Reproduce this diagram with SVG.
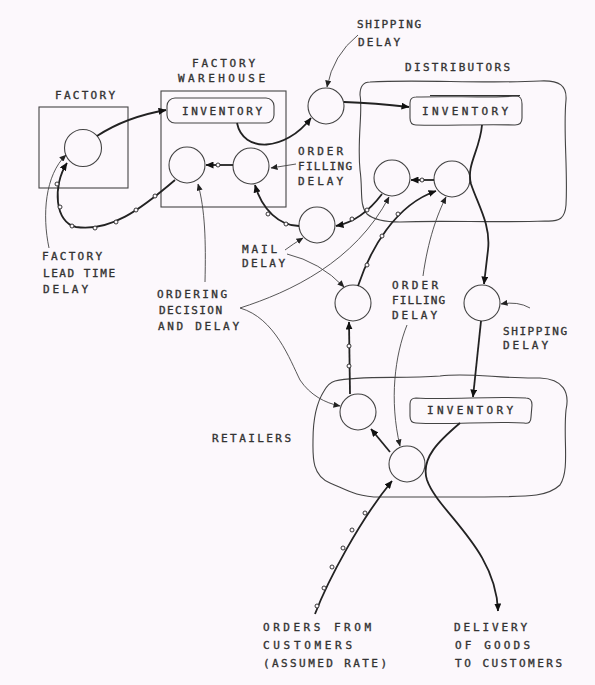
<svg xmlns="http://www.w3.org/2000/svg" width="595" height="685" viewBox="0 0 595 685">
<defs>
<style>
.bg{fill:#fcf8fc}
.t{font-family:"DejaVu Sans Mono","Liberation Mono",monospace;font-size:11px;fill:#333;stroke:#333;stroke-width:0.35}
.c{fill:none;stroke:#444;stroke-width:1.1}
.box{fill:none;stroke:#444;stroke-width:1.1}
.flow{fill:none;stroke:#222;stroke-width:1.8}
.info{fill:none;stroke:#444;stroke-width:0.9}
.dot{fill:#fcf8fc;stroke:#222;stroke-width:0.9}
</style>
<marker id="ah" viewBox="0 0 8 7" refX="7.5" refY="3.5" markerWidth="8" markerHeight="7" markerUnits="userSpaceOnUse" orient="auto"><path d="M0,0 L8,3.5 L0,7 z" fill="#111"/></marker>
<marker id="ahs" viewBox="0 0 7 6" refX="6.5" refY="3" markerWidth="7" markerHeight="6" markerUnits="userSpaceOnUse" orient="auto"><path d="M0,0 L7,3 L0,6 z" fill="#222"/></marker>
</defs>
<rect class="bg" x="0" y="0" width="595" height="685"/>

<g id="factory">
<rect class="box" x="39" y="107" width="89" height="81"/>
<text class="t" x="55" y="99" textLength="60" lengthAdjust="spacing">FACTORY</text>
<circle class="c" cx="83" cy="148" r="18.5"/>
</g>

<g id="factory-warehouse">
<rect class="box" x="161" y="91" width="125" height="116"/>
<text class="t" x="192" y="67" textLength="63" lengthAdjust="spacing">FACTORY</text>
<text class="t" x="178" y="82" textLength="87" lengthAdjust="spacing">WAREHOUSE</text>
<rect class="box" x="167" y="98" width="107" height="25" rx="8"/>
<text class="t" x="182" y="115" textLength="80" lengthAdjust="spacing">INVENTORY</text>
<circle id="fw-order" class="c" cx="187" cy="165" r="18"/>
<circle id="fw-fill" class="c" cx="251" cy="166" r="18"/>
</g>

<g id="shipping-top">
<circle class="c" cx="326" cy="106" r="18"/>
<text class="t" x="357" y="28" textLength="64" lengthAdjust="spacing">SHIPPING</text>
<text class="t" x="358" y="46" textLength="42" lengthAdjust="spacing">DELAY</text>
</g>

<g id="mail-delay">
<circle class="c" cx="317" cy="225" r="18"/>
<text class="t" x="242" y="253" textLength="35" lengthAdjust="spacing">MAIL</text>
<text class="t" x="242" y="267" textLength="43" lengthAdjust="spacing">DELAY</text>
</g>

<g id="distributors">
<path class="box" d="M370,82 C420,79 480,84 540,81 C560,80 567,86 566,100 C563,130 568,170 566,205 C565,218 560,222 545,221 C500,223 440,220 400,222 C385,222 374,220 367,214 C359,205 363,190 360,170 C357,140 363,110 360,95 C360,86 363,82 370,82 Z"/>
<text class="t" x="405" y="71" textLength="105" lengthAdjust="spacing">DISTRIBUTORS</text>
<path class="box" d="M416,97 C450,96 490,98 516,96 C521,96 522,99 522,104 L522,118 C522,123 520,125 515,125 C480,124 445,126 416,125 C411,125 410,122 410,118 L410,103 C410,99 412,97 416,97 Z"/>
<line x1="430" y1="95.5" x2="520" y2="95.5" stroke="#333" stroke-width="1"/>
<text class="t" x="422" y="115" textLength="86" lengthAdjust="spacing">INVENTORY</text>
<circle id="d-order" class="c" cx="392" cy="178" r="18"/>
<circle id="d-fill" class="c" cx="452" cy="179" r="18"/>
</g>

<g id="middle-order">
<circle class="c" cx="353" cy="303" r="18"/>
</g>

<g id="shipping-right">
<circle class="c" cx="482" cy="303" r="18"/>
<text class="t" x="503" y="335" textLength="64" lengthAdjust="spacing">SHIPPING</text>
<text class="t" x="503" y="349" textLength="45" lengthAdjust="spacing">DELAY</text>
</g>

<g id="retailers">
<path class="box" d="M335,381 C360,375 400,379 440,376 C470,372 500,379 540,378 C563,379 570,392 566,410 C563,440 570,470 560,485 C545,499 520,496 480,497 L380,497 C356,497 345,489 330,483 C311,475 313,455 313,440 C313,420 317,402 324,391 C328,384 331,382 335,381 Z"/>
<text class="t" x="212" y="442" textLength="79" lengthAdjust="spacing">RETAILERS</text>
<path class="box" d="M416,398 C450,400 490,396 526,398 C531,398 532,401 532,405 L531,417 C531,422 529,424 524,423 C490,421 450,425 416,423 C411,423 410,420 410,416 L410,404 C410,400 412,398 416,398 Z"/>
<text class="t" x="427" y="414" textLength="86" lengthAdjust="spacing">INVENTORY</text>
<circle id="r-order" class="c" cx="358" cy="412" r="18"/>
<circle id="r-fill" class="c" cx="407" cy="464" r="18"/>
</g>

<g id="labels">
<text class="t" x="298" y="155" textLength="45" lengthAdjust="spacing">ORDER</text>
<text class="t" x="298" y="170" textLength="54" lengthAdjust="spacing">FILLING</text>
<text class="t" x="298" y="185" textLength="45" lengthAdjust="spacing">DELAY</text>
<text class="t" x="42" y="260" textLength="60" lengthAdjust="spacing">FACTORY</text>
<text class="t" x="43" y="277" textLength="72" lengthAdjust="spacing">LEAD TIME</text>
<text class="t" x="43" y="293" textLength="45" lengthAdjust="spacing">DELAY</text>
<text class="t" x="157" y="298" textLength="70" lengthAdjust="spacing">ORDERING</text>
<text class="t" x="159" y="314" textLength="63" lengthAdjust="spacing">DECISION</text>
<text class="t" x="158" y="330" textLength="81" lengthAdjust="spacing">AND DELAY</text>
<text class="t" x="392" y="289" textLength="46" lengthAdjust="spacing">ORDER</text>
<text class="t" x="392" y="304" textLength="53" lengthAdjust="spacing">FILLING</text>
<text class="t" x="392" y="319" textLength="45" lengthAdjust="spacing">DELAY</text>
<text class="t" x="263" y="631" textLength="108" lengthAdjust="spacing">ORDERS FROM</text>
<text class="t" x="263" y="649" textLength="89" lengthAdjust="spacing">CUSTOMERS</text>
<text class="t" x="263" y="667" textLength="124" lengthAdjust="spacing">(ASSUMED RATE)</text>
<text class="t" x="454" y="631" textLength="73" lengthAdjust="spacing">DELIVERY</text>
<text class="t" x="455" y="649" textLength="75" lengthAdjust="spacing">OF GOODS</text>
<text class="t" x="455" y="667" textLength="107" lengthAdjust="spacing">TO CUSTOMERS</text>
</g>

<g id="connectors">
<path class="flow" d="M97,136 Q126,117 166,110" marker-end="url(#ah)"/>
<path class="flow" d="M237,123 C243,153 285,152 311,118" marker-end="url(#ah)"/>
<path class="flow" d="M344,102 Q375,103 409,107" marker-end="url(#ah)"/>
<path class="flow" d="M482,125 C480,150 466,165 471,184 C478,205 491,225 488,250 L484,284" marker-end="url(#ah)"/>
<path class="flow" d="M481,321 L473,397" marker-end="url(#ah)"/>
<path class="flow" d="M460,423 C440,440 420,458 427,480 C438,512 496,548 498,611" marker-end="url(#ah)"/>
<path class="flow" d="M315,614 C328,580 360,520 392,481" marker-end="url(#ah)"/>
<path class="flow" d="M390,452 L371,429" marker-end="url(#ah)"/>
<path class="flow" d="M350,394 L349,322" marker-end="url(#ah)"/>
<path class="flow" d="M358,286 C370,250 395,205 436,191" marker-end="url(#ah)"/>
<path class="flow" d="M434,180 L411,180" marker-end="url(#ah)"/>
<path class="flow" d="M382,194 C370,210 356,222 336,226" marker-end="url(#ah)"/>
<path class="flow" d="M299,226 C280,226 262,210 255,185" marker-end="url(#ah)"/>
<path class="flow" d="M233,165 L206,165" marker-end="url(#ah)"/>
<path class="flow" d="M175,180 C140,210 110,232 76,227 C55,223 52,186 67,163" marker-end="url(#ah)"/>
<circle class="dot" cx="317" cy="606" r="2"/>
<circle class="dot" cx="324" cy="588" r="2"/>
<circle class="dot" cx="332" cy="567" r="2"/>
<circle class="dot" cx="343" cy="548" r="2"/>
<circle class="dot" cx="352" cy="530" r="2"/>
<circle class="dot" cx="365" cy="513" r="2"/>
<circle class="dot" cx="349" cy="346" r="2"/>
<circle class="dot" cx="349" cy="366" r="2"/>
<circle class="dot" cx="367" cy="265" r="2"/>
<circle class="dot" cx="382" cy="236" r="2"/>
<circle class="dot" cx="398" cy="214" r="2"/>
<circle class="dot" cx="422" cy="180" r="2"/>
<circle class="dot" cx="352" cy="219" r="2"/>
<circle class="dot" cx="367" cy="210" r="2"/>
<circle class="dot" cx="268" cy="214" r="2"/>
<circle class="dot" cx="286" cy="224" r="2"/>
<circle class="dot" cx="218" cy="165" r="2"/>
<circle class="dot" cx="155" cy="196" r="2"/>
<circle class="dot" cx="136" cy="210" r="2"/>
<circle class="dot" cx="116" cy="222" r="2"/>
<circle class="dot" cx="95" cy="228" r="2"/>
<circle class="dot" cx="72" cy="226" r="2"/>
<circle class="dot" cx="60" cy="207" r="2"/>
<circle class="dot" cx="57" cy="184" r="2"/>
<path class="info" d="M358,35 Q333,55 327,87" marker-end="url(#ahs)"/>
<path class="info" d="M296,164 L271,168" marker-end="url(#ahs)"/>
<path class="info" d="M530,308 Q518,301 501,304" marker-end="url(#ahs)"/>
<path class="info" d="M49,248 C42,215 45,175 66,155" marker-end="url(#ahs)"/>
<path class="info" d="M205,282 C206,240 205,210 198,184" marker-end="url(#ahs)"/>
<path class="info" d="M240,308 C290,292 355,262 389,197" marker-end="url(#ahs)"/>
<path class="info" d="M240,308 C275,318 290,360 300,380 C310,395 325,403 340,406" marker-end="url(#ahs)"/>
<path class="info" d="M285,250 Q293,244 303,238" marker-end="url(#ahs)"/>
<path class="info" d="M287,254 Q320,262 344,287" marker-end="url(#ahs)"/>
<path class="info" d="M423,276 C428,240 437,215 446,197" marker-end="url(#ahs)"/>
<path class="info" d="M407,325 C395,355 389,400 400,446" marker-end="url(#ahs)"/>
</g>
</svg>
